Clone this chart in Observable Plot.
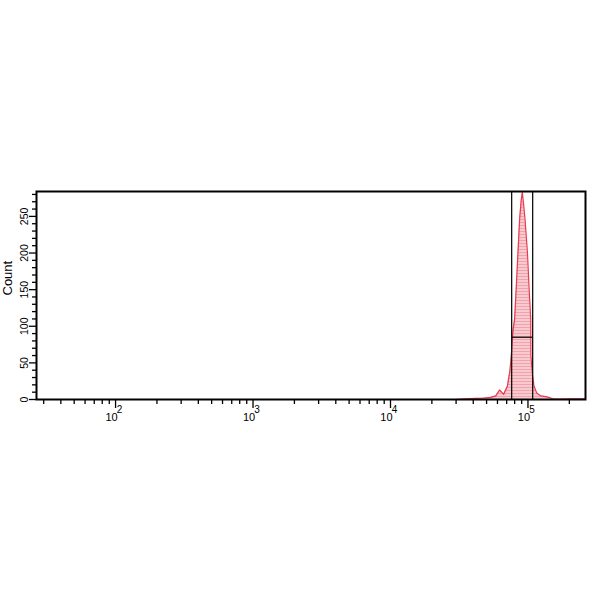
<!DOCTYPE html>
<html>
<head>
<meta charset="utf-8">
<script src="https://cdn.jsdelivr.net/npm/d3@7"></script>
<script src="https://cdn.jsdelivr.net/npm/@observablehq/plot@0.6"></script>
<style>
  html, body { margin: 0; padding: 0; background: #fff; }
  #chart svg { display: block; font-family: "Liberation Sans", Arial, sans-serif; }
</style>
</head>
<body>
<div id="chart"></div>
<script>
// Histogram (fluorescence channel value vs count)
const channelValues = [29800, 35200, 41600, 47600, 53600, 58300, 62200, 66500, 70800, 73900, 76100, 77800, 80000, 82300, 84600, 87000, 89300, 91000, 93100, 95100, 99100, 101700, 104700, 104980, 107600, 110600, 115700, 123600, 134600, 141500, 151300, 173000, 204600, 242300, 258700];
const counts =        [0,     1,     1.5,   2,     3,     5,     13,    7,     18,    39,    66,    94,    110,   155,   201,   247,   272,   283,   265,   247,   201,   155,    110,    60,     35,     18.5,   9,      5,      4,      3,      1,      0.5,    1,      1,      1];

// Gate
const gateBounds = [76100, 108200];
const gateLevel = [85];

// Axes
const xDomain = [26.6, 262144];
const yDomain = [0, 284];
const xMajorTicks = [100, 1000, 10000, 100000];
const xMajorExponents = ["2", "3", "4", "5"];
const xMinorTicks = [30, 40, 50, 60, 70, 80, 90, 200, 300, 400, 500, 600, 700, 800, 900, 2000, 3000, 4000, 5000, 6000, 7000, 8000, 9000, 20000, 30000, 40000, 50000, 60000, 70000, 80000, 90000, 200000];
const yMajorTicks = [0, 50, 100, 150, 200, 250];
const yMinorTicks = [10, 20, 30, 40, 60, 70, 80, 90, 110, 120, 130, 140, 160, 170, 180, 190, 210, 220, 230, 240, 260, 270, 280];
const yLabel = "Count";

const hist = channelValues.map((v, i) => ({x: v, y: counts[i]}));
const majors = xMajorTicks.map((v, i) => ({x: v, e: xMajorExponents[i]}));

const plot = Plot.plot({
  width: 600,
  height: 600,
  marginLeft: 36,
  marginRight: 15,
  marginTop: 191,
  marginBottom: 201,
  style: {background: "#fff", fontFamily: "Liberation Sans, Arial, sans-serif", color: "#000"},
  x: {type: "log", domain: xDomain},
  y: {domain: yDomain},
  marks: [
    Plot.areaY(hist, {x: "x", y: "y", fill: "url(#hatch)", curve: "linear"}),
    Plot.lineY(hist, {x: "x", y: "y", stroke: "#e8394f", strokeWidth: 1.2, curve: "linear"}),
    Plot.ruleX(gateBounds, {stroke: "#111", strokeWidth: 1.3}),
    Plot.ruleY(gateLevel, {x1: gateBounds[0], x2: gateBounds[1], stroke: "#111", strokeWidth: 1.3}),
    Plot.axisX({ticks: xMinorTicks, tickSize: 5, tickFormat: () => "", label: null, strokeWidth: 1.3}),
    Plot.axisX({ticks: xMajorTicks, tickSize: 9, tickFormat: () => "", label: null, strokeWidth: 1.3}),
    Plot.text(majors, {x: "x", text: () => "10", frameAnchor: "bottom", dy: 21, dx: -4, fontSize: 11}),
    Plot.text(majors, {x: "x", text: "e", frameAnchor: "bottom", dy: 13, dx: 4, fontSize: 10}),
    Plot.axisY({ticks: yMinorTicks, tickSize: 4, tickFormat: () => "", label: null, strokeWidth: 1.3}),
    Plot.axisY({ticks: yMajorTicks, tickSize: 7, tickPadding: 2, tickRotate: -90, fontSize: 10.5, label: null, strokeWidth: 1.3}),
    Plot.text([yLabel], {text: d => d, frameAnchor: "left", dx: -29, rotate: -90, fontSize: 13}),
    Plot.frame({stroke: "#000", strokeWidth: 2})
  ]
});

// hatch pattern for the histogram fill
const ns = "http://www.w3.org/2000/svg";
const defs = document.createElementNS(ns, "defs");
const pat = document.createElementNS(ns, "pattern");
pat.setAttribute("id", "hatch");
pat.setAttribute("patternUnits", "userSpaceOnUse");
pat.setAttribute("width", "4");
pat.setAttribute("height", "3");
const bg = document.createElementNS(ns, "rect");
bg.setAttribute("width", "4"); bg.setAttribute("height", "3"); bg.setAttribute("fill", "#f8c9ce");
const ln = document.createElementNS(ns, "rect");
ln.setAttribute("y", "0"); ln.setAttribute("width", "4"); ln.setAttribute("height", "1"); ln.setAttribute("fill", "#eea3ad");
pat.appendChild(bg); pat.appendChild(ln);
defs.appendChild(pat);
plot.insertBefore(defs, plot.firstChild);

document.getElementById("chart").appendChild(plot);
</script>
</body>
</html>
